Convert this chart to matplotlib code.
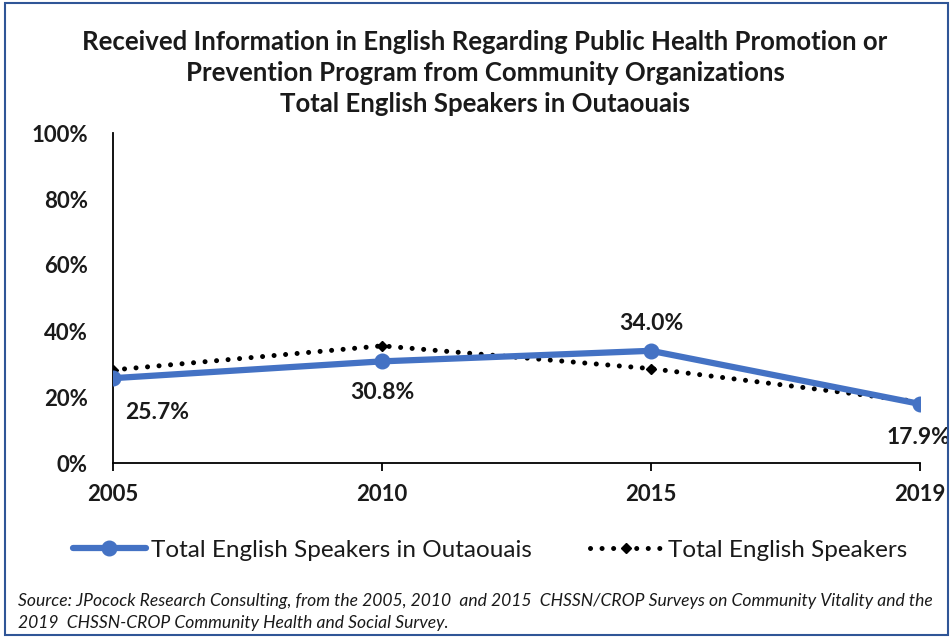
import matplotlib
matplotlib.use("Agg")
import matplotlib.pyplot as plt
from matplotlib.patches import Rectangle

years = ["2005", "2010", "2015", "2019"]
outaouais = [25.7, 30.8, 34.0, 17.9]
total = [28.2, 35.5, 28.6, 18.5]
label_texts = ["25.7%", "30.8%", "34.0%", "17.9%"]
yticks = [0, 20, 40, 60, 80, 100]
ytick_labels = ["0%", "20%", "40%", "60%", "80%", "100%"]

plt.rcParams['font.family'] = ['Lato', 'DejaVu Sans']

fig = plt.figure(figsize=(9.53, 6.38), dpi=100)
ax = fig.add_axes([113/953, 1-463/638, (920-113)/953, (463-133)/638])

x = list(range(len(years)))
blue = "#4472C4"
ax.plot(x, total, color="black", lw=3.6, linestyle=(0, (0.01, 2.3)),
        dash_capstyle="round", marker="D", markersize=5.5, markerfacecolor="black",
        markeredgecolor="black", label="Total English Speakers", zorder=2)
ax.plot(x, outaouais, color=blue, lw=4.5, marker="o", markersize=10.5,
        label="Total English Speakers in Outaouais", zorder=3, solid_capstyle="round")

offsets = [(32, -25), (0, -22.5), (0, 20), (-1, -24.5)]
for xi, v, t, off in zip(x, outaouais, label_texts, offsets):
    ax.annotate(t, (xi, v), xytext=off, textcoords="offset points",
                ha="center", va="center", fontsize=16.5, fontweight="bold", color="#1a1a1a")

ax.set_xlim(0, 3)
ax.set_ylim(0, 100)
ax.set_xticks(x)
ax.set_xticklabels(years, fontsize=16, fontweight="bold")
ax.set_yticks(yticks)
ax.set_yticklabels(ytick_labels, fontsize=16, fontweight="bold")
ax.tick_params(axis="y", length=0, pad=18)
ax.tick_params(axis="x", length=6, width=1.3, pad=9, direction="out")
for s in ["top", "right"]:
    ax.spines[s].set_visible(False)
for s in ["left", "bottom"]:
    ax.spines[s].set_linewidth(1.3)
    ax.spines[s].set_color("black")
ax.spines["bottom"].set_zorder(1)
for lab in ax.get_xticklabels() + ax.get_yticklabels():
    lab.set_color("#1a1a1a")

fig.text(485/953, 1-42/638, "Received Information in English Regarding Public Health Promotion or",
         ha="center", va="center", fontsize=18.5, fontweight="bold", color="#1a1a1a")
fig.text(485/953, 1-73/638, "Prevention Program from Community Organizations",
         ha="center", va="center", fontsize=18.5, fontweight="bold", color="#1a1a1a")
fig.text(485/953, 1-104/638, "Total English Speakers in Outaouais",
         ha="center", va="center", fontsize=18.5, fontweight="bold", color="#1a1a1a")

handles, labels = ax.get_legend_handles_labels()
leg = fig.legend(handles[::-1], labels[::-1], loc="center", ncol=2, frameon=False,
                 bbox_to_anchor=(490/953, 1-550/638), fontsize=17.5,
                 handlelength=3.0, columnspacing=2.4, handletextpad=0.2)
for t in leg.get_texts():
    t.set_color("#1a1a1a")

fig.text(18/953, 1-601/638,
         "Source: JPocock Research Consulting, from the 2005, 2010  and 2015  CHSSN/CROP Surveys on Community Vitality and the",
         ha="left", va="center", fontsize=12.6, style="italic", color="#1a1a1a")
fig.text(18/953, 1-623/638,
         "2019  CHSSN-CROP Community Health and Social Survey.",
         ha="left", va="center", fontsize=12.6, style="italic", color="#1a1a1a")

fig.patches.append(Rectangle((5/953, 3/638), (948-5)/953, (635-3)/638, transform=fig.transFigure,
                             fill=False, edgecolor="#2F5597", lw=1.5))

fig.savefig("out.png", dpi=100)
